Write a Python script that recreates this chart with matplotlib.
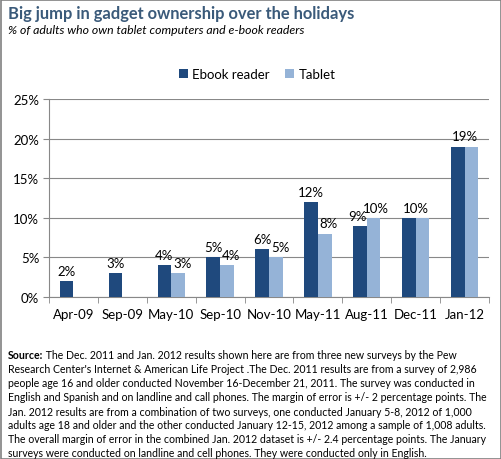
import matplotlib
matplotlib.use("Agg")
import matplotlib.pyplot as plt
from matplotlib.patches import Rectangle
import numpy as np

categories = ["Apr-09", "Sep-09", "May-10", "Sep-10", "Nov-10", "May-11", "Aug-11", "Dec-11", "Jan-12"]
ebook = [2, 3, 4, 5, 6, 12, 9, 10, 19]
tablet = [None, None, 3, 4, 5, 8, 10, 10, 19]
yticks = [0, 5, 10, 15, 20, 25]

title = "Big jump in gadget ownership over the holidays"
subtitle = "% of adults who own tablet computers and e-book readers"
source_bold = "Source:"
source_lines = [
    " The Dec. 2011 and Jan. 2012 results shown here are from three new surveys by the Pew",
    "Research Center's Internet & American Life Project .The Dec. 2011 results are from a survey of 2,986",
    "people age 16 and older conducted November 16-December 21, 2011. The survey was conducted in",
    "English and Spanish and on landline and call phones. The margin of error is +/- 2 percentage points. The",
    "Jan. 2012 results are from a combination of two surveys, one conducted January 5-8, 2012 of 1,000",
    "adults age 18 and older and the other conducted January 12-15, 2012 among a sample of 1,008 adults.",
    "The overall margin of error in the combined Jan. 2012 dataset is +/- 2.4 percentage points. The January",
    "surveys were conducted on landline and cell phones. They were conducted only in English.",
]

C_E = "#1F497D"
C_T = "#95B3D7"
FONT = "Lato"
plt.rcParams['font.family'] = [FONT, 'DejaVu Sans']

fig = plt.figure(figsize=(5.02, 4.60), dpi=100)
fig.patch.set_facecolor("white")
ax = fig.add_axes([49/502, 1-298/460, (489-49)/502, (298-100)/460])
renderer = fig.canvas.get_renderer()

def fit_text(xp, yp, s, target_w, base=10, **kw):
    t = fig.text(xp/502, 1-yp/460, s, fontsize=base, va="center", **kw)
    wpx = t.get_window_extent(renderer).width
    t.set_fontsize(base*target_w/wpx)
    return t

x = np.arange(len(categories))
w = 0.28
eb_x = x - w/2
tb_x = x + w/2
ax.bar(eb_x, ebook, width=w, color=C_E, label="Ebook reader", zorder=3)
tv = [np.nan if v is None else v for v in tablet]
ax.bar(tb_x, tv, width=w, color=C_T, label="Tablet", zorder=3)

LFS = 9.5
for i in range(len(categories)):
    e = ebook[i]
    t = tablet[i]
    if t is not None and t == e:
        ax.annotate(f"{e}%", (x[i], e), xytext=(0, 3), textcoords="offset points",
                    ha="center", va="bottom", fontsize=LFS)
        continue
    ax.annotate(f"{e}%", (eb_x[i], e), xytext=(-1.5 if (t is not None and t > e) else 0, 3),
                textcoords="offset points", ha="center", va="bottom", fontsize=LFS)
    if t is not None:
        ax.annotate(f"{t}%", (tb_x[i], t), xytext=(3 if t < e else 1.5, 3),
                    textcoords="offset points", ha="center", va="bottom", fontsize=LFS)

ax.set_xlim(-0.5, len(categories)-0.5)
ax.set_ylim(0, 25)
ax.set_yticks(yticks)
ax.set_yticklabels([f"{v}%" for v in yticks], fontsize=LFS)
ax.set_xticks(x)
ax.set_xticklabels(categories, fontsize=LFS)
ax.tick_params(axis="x", length=0, pad=8)
ax.set_xticks(np.arange(-0.5, len(categories)), minor=True)
ax.tick_params(axis="x", which="minor", length=4, color="#888888", direction="out")
ax.tick_params(axis="y", length=4, color="#888888", direction="out", pad=3)
ax.grid(axis="y", color="#888888", linewidth=0.8, zorder=0)
for s in ["top", "right"]:
    ax.spines[s].set_visible(False)
for s in ["left", "bottom"]:
    ax.spines[s].set_color("#888888")
    ax.spines[s].set_linewidth(0.8)

leg = fig.legend(loc="center", bbox_to_anchor=(257/502, 1-75/460), ncol=2, frameon=False,
                 fontsize=LFS, handlelength=0.7, handleheight=0.7, handletextpad=0.3, columnspacing=1.2)

fit_text(8, 14, title, 349, fontweight="bold", color="#3A5A7A")
fit_text(8, 30, subtitle, 297, style="italic", color="black")

# source block: size fitted to the widest line (line 4 spans ~479 px)
probe = fig.text(0, 0, source_lines[3], fontsize=10)
sfs = 10*479/probe.get_window_extent(renderer).width
probe.remove()
y0 = 356
dy = 14
t0 = fig.text(8/502, 1-y0/460, source_bold, fontsize=sfs, fontweight="bold", va="center")
bb = t0.get_window_extent(renderer)
fig.text(bb.x1/502, 1-y0/460, source_lines[0], fontsize=sfs, va="center")
for k, line in enumerate(source_lines[1:], start=1):
    fig.text(8/502, 1-(y0 + k*dy)/460, line, fontsize=sfs, va="center")

fig.add_artist(Rectangle((0.5/502, 0.5/460), 1-1/502, 1-1/460, transform=fig.transFigure,
                         fill=False, edgecolor="#808080", linewidth=1.2))

fig.savefig("out.png", dpi=100)
